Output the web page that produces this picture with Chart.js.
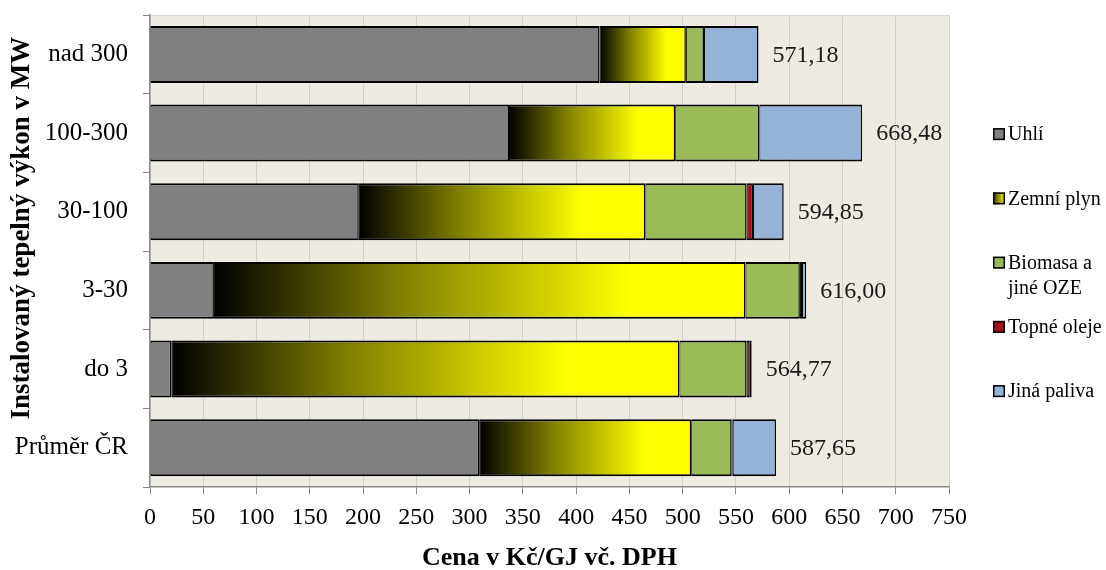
<!DOCTYPE html>
<html><head><meta charset="utf-8">
<script src="https://cdn.jsdelivr.net/npm/chart.js@4.4.0/dist/chart.umd.min.js"></script>
<style>html,body{margin:0;padding:0;background:#fff;}#wrap{width:1106px;height:570px;}</style>
</head><body><div id="wrap"><canvas id="c" width="1106" height="570"></canvas></div>
<script>
// ---- data ----
const categories = ['nad 300', '100-300', '30-100', '3-30', 'do 3', 'Průměr ČR'];
const seriesNames = ['Uhlí', 'Zemní plyn', ['Biomasa a', 'jiné OZE'], 'Topné oleje', 'Jiná paliva'];
const uhli       = [422, 337, 196, 60, 20, 309];
const zemniPlyn  = [81, 156, 269, 499, 477, 199];
const biomasa    = [17, 79, 95, 51, 63, 38];
const topneOleje = [0, 0, 6, 2, 3, 1];
const jinaPaliva = [51.18, 96.48, 28.85, 4, 1.77, 40.65];
const totals     = [571.18, 668.48, 594.85, 616.00, 564.77, 587.65];
const xMin = 0, xMax = 750, xStep = 50;
const xTitle = 'Cena v Kč/GJ vč. DPH';
const yTitle = 'Instalovaný tepelný výkon v MW';

const SERIF = "'Liberation Serif','Times New Roman',serif";
const colors = ['#808080', null, '#9BBB59', '#A0141E', '#95B3D7'];

function plynFill(ctx) {
  const chart = ctx.chart;
  const xs = chart.scales && chart.scales.x;
  if (!xs || ctx.type !== 'data' || !chart.chartArea) return '#FFFF00';
  const i = ctx.dataIndex;
  const s = uhli[i];
  const x0 = xs.getPixelForValue(s);
  const x1 = xs.getPixelForValue(s + zemniPlyn[i] * 0.78);
  const g = chart.ctx.createLinearGradient(x0, 0, x1, 0);
  g.addColorStop(0, '#000000');
  g.addColorStop(0.45, '#808000');
  g.addColorStop(1, '#FFFF00');
  return g;
}

const bw = {top: 2, bottom: 2, left: 1, right: 1.5};
function ds(label, data, bg) {
  return {label, data, backgroundColor: bg, borderColor: '#000', borderWidth: bw, borderSkipped: false,
          barPercentage: 0.724, categoryPercentage: 1};
}

const plotBg = {
  id: 'plotBg',
  beforeDraw(chart) {
    const {ctx, chartArea: a} = chart;
    ctx.save();
    ctx.fillStyle = '#ffffff';
    ctx.fillRect(0, 0, chart.width, chart.height);
    ctx.fillStyle = '#EEEBE2';
    ctx.fillRect(a.left, a.top, a.right - a.left, a.bottom - a.top);
    ctx.strokeStyle = '#D2CFC8';
    ctx.lineWidth = 1;
    ctx.beginPath(); ctx.moveTo(a.left, a.top + 0.5); ctx.lineTo(a.right, a.top + 0.5); ctx.stroke();
    ctx.restore();
  }
};

const totalLabels = {
  id: 'totalLabels',
  afterDatasetsDraw(chart) {
    const {ctx} = chart; const xs = chart.scales.x, ys = chart.scales.y;
    ctx.save();
    ctx.font = '24px ' + SERIF;
    ctx.fillStyle = '#1a1a1a';
    ctx.textBaseline = 'middle';
    ctx.textAlign = 'left';
    totals.forEach((t, i) => {
      ctx.fillText(t.toFixed(2).replace('.', ','), xs.getPixelForValue(t) + 14, ys.getPixelForValue(i) + 1);
    });
    ctx.restore();
  }
};

const yAxisTitle = {
  id: 'yAxisTitle',
  afterDraw(chart) {
    const {ctx, chartArea: a} = chart;
    ctx.save();
    ctx.translate(22, a.top + 213);
    ctx.rotate(-Math.PI / 2);
    ctx.font = 'bold 27px ' + SERIF;
    ctx.fillStyle = '#000';
    ctx.textAlign = 'center';
    ctx.textBaseline = 'middle';
    ctx.fillText(yTitle, 0, 0);
    ctx.restore();
  }
};

const sideLegend = {
  id: 'sideLegend',
  afterDraw(chart) {
    const {ctx, chartArea: a} = chart;
    ctx.save();
    ctx.font = '20px ' + SERIF;
    ctx.fillStyle = '#000';
    ctx.textBaseline = 'middle';
    ctx.textAlign = 'left';
    const bx = a.right + 44;
    seriesNames.forEach((name, i) => {
      const y = a.top + 119 + i * 64.25;
      let fill = colors[i];
      if (!fill) {
        const g = ctx.createLinearGradient(bx, 0, bx + 12, 0);
        g.addColorStop(0, '#303000'); g.addColorStop(1, '#FFFF00');
        fill = g;
      }
      ctx.fillStyle = fill;
      ctx.fillRect(bx, y - 6, 12, 12);
      ctx.strokeStyle = '#000'; ctx.lineWidth = 1.5;
      ctx.strokeRect(bx + 0.75, y - 5.25, 10.5, 10.5);
      ctx.fillStyle = '#000';
      const lines = Array.isArray(name) ? name : [name];
      lines.forEach((ln, k) => ctx.fillText(ln, bx + 15, y + 1 + k * 25));
    });
    ctx.restore();
  }
};

new Chart(document.getElementById('c'), {
  type: 'bar',
  data: {
    labels: categories,
    datasets: [
      ds('Uhlí', uhli, colors[0]),
      ds('Zemní plyn', zemniPlyn, plynFill),
      ds('Biomasa a jiné OZE', biomasa, colors[2]),
      ds('Topné oleje', topneOleje, colors[3]),
      ds('Jiná paliva', jinaPaliva, colors[4])
    ]
  },
  options: {
    indexAxis: 'y',
    responsive: false,
    animation: false,
    events: [],
    devicePixelRatio: 1,
    layout: {padding: {top: 0, right: 157, left: 0, bottom: 0}},
    plugins: {legend: {display: false}, tooltip: {enabled: false}},
    scales: {
      x: {
        stacked: true, min: xMin, max: xMax,
        ticks: {stepSize: xStep, color: '#000', font: {family: SERIF, size: 24}, padding: 9, maxRotation: 0, autoSkip: false},
        grid: {color: '#D3D0C8', tickColor: '#888', tickLength: 7, lineWidth: 1},
        border: {color: '#888', width: 1.5},
        title: {display: true, text: xTitle, color: '#000', font: {family: SERIF, size: 26, weight: 'bold', lineHeight: 1}, padding: {top: 0, bottom: -1}},
        afterFit(scale) { scale.height = 83; }
      },
      y: {
        stacked: true,
        ticks: {color: '#000', font: {family: SERIF, size: 25, lineHeight: 0.01}, padding: 15},
        grid: {offset: true, drawOnChartArea: false, color: '#888', tickLength: 7},
        border: {color: '#888', width: 1.5},
        title: {display: false},
        afterFit(scale) { scale.width = 150; }
      }
    }
  },
  plugins: [plotBg, totalLabels, yAxisTitle, sideLegend]
});
</script></body></html>
